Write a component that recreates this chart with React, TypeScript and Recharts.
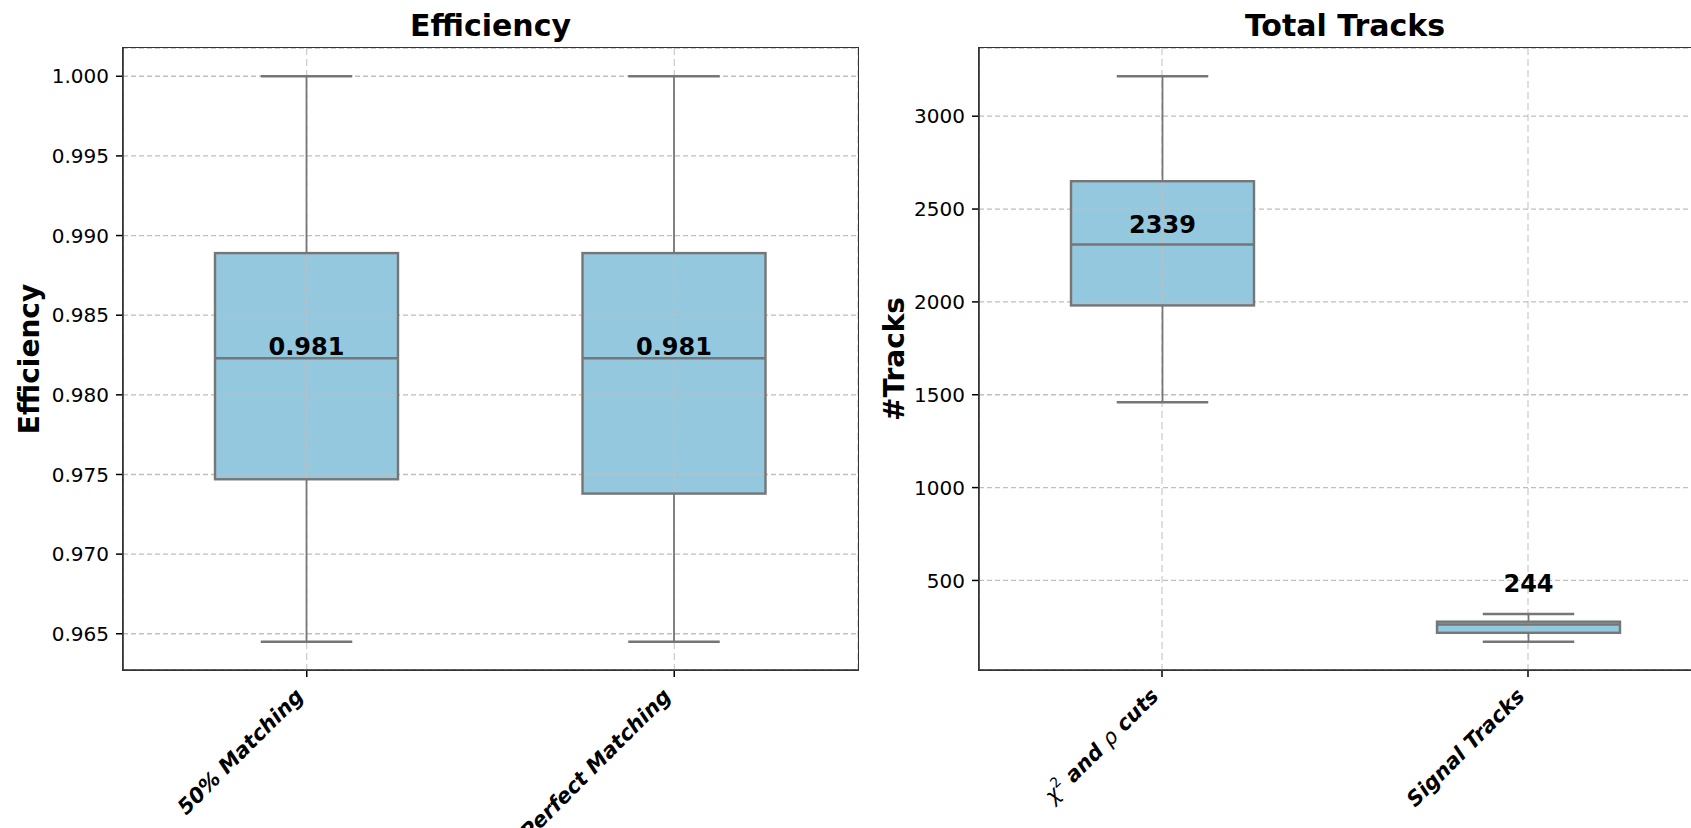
import React from 'react'
import { ComposedChart, Bar, XAxis, YAxis, CartesianGrid } from 'recharts'

const FONT = '"DejaVu Sans", sans-serif'

// Efficiency panel
const effCategories = ['50% Matching', 'Perfect Matching']
const effMin = [0.9645, 0.9645]
const effQ1 = [0.9747, 0.9738]
const effMedian = [0.9823, 0.9823]
const effQ3 = [0.9889, 0.9889]
const effMax = [1.0, 1.0]
const effMean = [0.981, 0.981]
const effTicks = [0.965, 0.97, 0.975, 0.98, 0.985, 0.99, 0.995, 1.0]

// Total tracks panel
const trackCategories = ['chi2', 'Signal Tracks']
const trackMin = [1460, 170]
const trackQ1 = [1981, 218]
const trackMedian = [2309, 263]
const trackQ3 = [2650, 278]
const trackMax = [3215, 319]
const trackMean = [2339, 244]
const trackTicks = [500, 1000, 1500, 2000, 2500, 3000]

type Row = { name: string; min: number; q1: number; median: number; q3: number; max: number; mean: number }

const buildRows = (names: string[], mn: number[], q1: number[], md: number[], q3: number[], mx: number[], mean: number[]): Row[] =>
  names.map((name, i) => ({ name, min: mn[i], q1: q1[i], median: md[i], q3: q3[i], max: mx[i], mean: mean[i] }))

const effRows = buildRows(effCategories, effMin, effQ1, effMedian, effQ3, effMax, effMean)
const trackRows = buildRows(trackCategories, trackMin, trackQ1, trackMedian, trackQ3, trackMax, trackMean)

// matplotlib-style 5% margins
const padDomain = (lo: number[], hi: number[]): [number, number] => {
  const a = Math.min(...lo)
  const b = Math.max(...hi)
  const m = (b - a) * 0.05
  return [a - m, b + m]
}

const BOX_FILL = '#93c8df'
const EDGE = '#767676'
const GRID = '#bfbfbf'
const FRAME = '#333333'
const H = 828
const TOP = 48
const BOTTOM = 7
const XAXIS_H = 151

function BoxShape(props: any) {
  const { x, y, width, height, payload, lift, fmt, ticks } = props
  const top = Math.min(y, y + height)
  const h = Math.abs(height)
  const span = payload.max - payload.min
  const py = (v: number) => top + ((payload.max - v) / span) * h
  const cx = x + width / 2
  const cap = width / 4
  const yQ3 = py(payload.q3)
  const yQ1 = py(payload.q1)
  const yMed = py(payload.median)
  const labelY = yQ1 - yQ3 < 30 ? py(payload.max) - 22 : yMed - lift
  // grid lines show through the box fill, as in the matplotlib original
  const inside = (ticks as number[]).filter((t) => t > payload.q1 && t < payload.q3)
  return (
    <g>
      <rect x={x} y={yQ3} width={width} height={yQ1 - yQ3} fill={BOX_FILL} />
      {inside.map((t) => (
        <line key={t} x1={x} x2={x + width} y1={py(t)} y2={py(t)} stroke={GRID} strokeWidth={1.3} strokeDasharray="5 3" />
      ))}
      <line x1={cx} x2={cx} y1={yQ3} y2={yQ1} stroke={GRID} strokeWidth={1} strokeDasharray="7 4" />
      <line x1={cx} x2={cx} y1={py(payload.max)} y2={yQ3} stroke={EDGE} strokeWidth={1.8} />
      <line x1={cx} x2={cx} y1={yQ1} y2={py(payload.min)} stroke={EDGE} strokeWidth={1.8} />
      <line x1={cx - cap} x2={cx + cap} y1={py(payload.max)} y2={py(payload.max)} stroke={EDGE} strokeWidth={2.4} />
      <line x1={cx - cap} x2={cx + cap} y1={py(payload.min)} y2={py(payload.min)} stroke={EDGE} strokeWidth={2.4} />
      <rect x={x} y={yQ3} width={width} height={yQ1 - yQ3} fill="none" stroke={EDGE} strokeWidth={2.4} />
      <line x1={x} x2={x + width} y1={yMed} y2={yMed} stroke={EDGE} strokeWidth={2.4} />
      <text x={cx} y={labelY} textAnchor="middle" fontSize={24} fontWeight="bold" fontFamily={FONT} fill="#000">
        {fmt(payload.mean)}
      </text>
    </g>
  )
}

function XTick(props: any) {
  const { x, y, payload } = props
  const v = payload.value
  return (
    <g transform={`translate(${x},${y})`}>
      <text transform="rotate(-45)" textAnchor="end" dx={-11} dy={8} fontSize={21} fontWeight="bold" fontStyle="italic" fontFamily={FONT} fill="#000">
        {v === 'chi2' ? (
          <>
            <tspan fontWeight="normal">χ</tspan>
            <tspan fontWeight="normal" fontStyle="normal" fontSize={14} dy={-9}>2</tspan>
            <tspan dy={9}> and </tspan>
            <tspan fontWeight="normal">ρ</tspan>
            <tspan> cuts</tspan>
          </>
        ) : (
          v
        )}
      </text>
    </g>
  )
}

const yLabel = (text: string, dx: number) => (p: any) => {
  const vb = p.viewBox
  const cx = vb.x + dx
  const cy = vb.y + vb.height / 2
  return (
    <text x={cx} y={cy} transform={`rotate(-90, ${cx}, ${cy})`} textAnchor="middle" dominantBaseline="central" fontSize={28} fontWeight="bold" fontFamily={FONT} fill="#000">
      {text}
    </text>
  )
}

function Panel(props: {
  left: number
  rows: Row[]
  ticks: number[]
  width: number
  axisWidth: number
  rightMargin: number
  title: string
  ylabel: string
  ylabelDx: number
  lift: number
  fmt: (v: number) => string
}) {
  const { left, rows, ticks, width, axisWidth, rightMargin, title, ylabel, ylabelDx, lift, fmt } = props
  const domain = padDomain(rows.map((r) => r.min), rows.map((r) => r.max))
  const plotL = axisWidth
  const plotW = width - rightMargin - axisWidth
  const plotH = H - TOP - BOTTOM - XAXIS_H
  return (
    <div style={{ position: 'absolute', left, top: 0, width, height: H }}>
      <ComposedChart width={width} height={H} data={rows} margin={{ top: TOP, right: rightMargin, bottom: BOTTOM, left: 0 }}>
        <CartesianGrid horizontal vertical={false} stroke={GRID} strokeWidth={1.3} strokeDasharray="5 3" />
        <CartesianGrid horizontal={false} vertical stroke={GRID} strokeWidth={1} strokeDasharray="7 4" />
        <XAxis
          dataKey="name"
          height={XAXIS_H}
          tick={<XTick />}
          tickSize={7}
          tickMargin={7}
          interval={0}
          tickLine={{ stroke: '#000', strokeWidth: 1.5 }}
          axisLine={{ stroke: FRAME, strokeWidth: 1.6 }}
        />
        <YAxis
          type="number"
          domain={domain}
          ticks={ticks}
          allowDataOverflow
          width={axisWidth}
          tickSize={7}
          tickMargin={7}
          tickFormatter={(v: number) => fmt(v)}
          tick={{ fontSize: 20, fill: '#000', fontFamily: FONT }}
          tickLine={{ stroke: '#000', strokeWidth: 1.5 }}
          axisLine={{ stroke: FRAME, strokeWidth: 1.6 }}
          label={{ content: yLabel(ylabel, ylabelDx) } as any}
        />
        <Bar
          dataKey={(d: Row) => [d.min, d.max]}
          barSize={183}
          isAnimationActive={false}
          shape={(p: any) => <BoxShape {...p} lift={lift} fmt={fmt} ticks={ticks} />}
        />
      </ComposedChart>
      {/* full matplotlib-style frame round the plot area */}
      <div
        style={{
          position: 'absolute',
          left: plotL - 0.8,
          top: TOP - 0.8,
          width: plotW + 1.6,
          height: plotH + 1.6,
          border: `1.6px solid ${FRAME}`,
          boxSizing: 'border-box',
          pointerEvents: 'none',
        }}
      />
      <div
        style={{
          position: 'absolute',
          left: plotL,
          width: plotW,
          top: 11,
          height: 30,
          lineHeight: '30px',
          fontSize: 30,
          fontWeight: 'bold',
          fontFamily: FONT,
          textAlign: 'center',
          color: '#000',
        }}
      >
        {title}
      </div>
    </div>
  )
}

export default function App() {
  return (
    <div style={{ position: 'absolute', left: 0, top: 0, width: 1691, height: H, overflow: 'hidden', background: '#fff' }}>
      <Panel left={0} rows={effRows} ticks={effTicks} width={870} axisWidth={123} rightMargin={12} title="Efficiency" ylabel="Efficiency" ylabelDx={29} lift={3} fmt={(v) => v.toFixed(3)} />
      <Panel left={870} rows={trackRows} ticks={trackTicks} width={850} axisWidth={109} rightMargin={9} title="Total Tracks" ylabel="#Tracks" ylabelDx={24} lift={12} fmt={(v) => v.toFixed(0)} />
    </div>
  )
}
